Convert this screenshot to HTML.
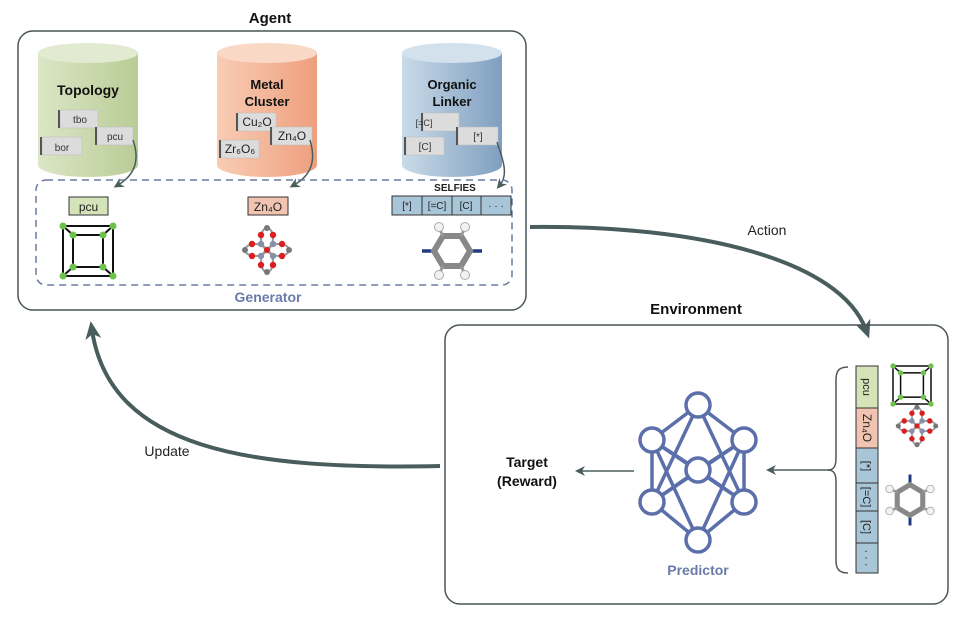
<!DOCTYPE html>
<html><head><meta charset="utf-8"><style>
html,body{margin:0;padding:0;background:#fff;width:966px;height:642px;overflow:hidden}
svg{display:block;font-family:"Liberation Sans",sans-serif}
</style></head><body>
<svg width="966" height="642" viewBox="0 0 966 642" xmlns="http://www.w3.org/2000/svg">
<defs>
<linearGradient id="gG" x1="0" x2="1"><stop offset="0" stop-color="#dbe6c6"/><stop offset="1" stop-color="#b9cc96"/></linearGradient>
<linearGradient id="gO" x1="0" x2="1"><stop offset="0" stop-color="#f8cdb5"/><stop offset="1" stop-color="#ee9f7d"/></linearGradient>
<linearGradient id="gB" x1="0" x2="1"><stop offset="0" stop-color="#c9dbe8"/><stop offset="1" stop-color="#7f9fc0"/></linearGradient>
<marker id="ah" markerWidth="10" markerHeight="10" refX="5" refY="5" orient="auto" markerUnits="userSpaceOnUse"><path d="M0,0 L10,5 L0,10 L3,5 z" fill="#4a5d5d"/></marker>
<marker id="ahb" markerWidth="18" markerHeight="18" refX="9" refY="9" orient="auto" markerUnits="userSpaceOnUse"><path d="M0,1 L18,9 L0,17 L5,9 z" fill="#4a5d5d"/></marker>
<g id="cube"><rect x="0" y="0" width="50" height="50" fill="none" stroke="#111" stroke-width="2"/><rect x="10" y="9" width="30" height="32" fill="none" stroke="#111" stroke-width="2"/><path d="M0 0L10 9M50 0L40 9M0 50L10 41M50 50L40 41" stroke="#111" stroke-width="2"/>
<g fill="#6cc24a"><circle cx="0" cy="0" r="3.5"/><circle cx="50" cy="0" r="3.5"/><circle cx="0" cy="50" r="3.5"/><circle cx="50" cy="50" r="3.5"/><circle cx="10" cy="9" r="3.5"/><circle cx="40" cy="9" r="3.5"/><circle cx="10" cy="41" r="3.5"/><circle cx="40" cy="41" r="3.5"/></g></g>
<g id="zn">
<g fill="none" stroke="#999" stroke-width="2"><ellipse cx="0" cy="-12" rx="6" ry="10"/><ellipse cx="0" cy="12" rx="6" ry="10"/><ellipse cx="-12" cy="0" rx="10" ry="6"/><ellipse cx="12" cy="0" rx="10" ry="6"/></g>
<g fill="#d91f1f"><circle cx="-6" cy="-15" r="3.2"/><circle cx="6" cy="-15" r="3.2"/><circle cx="-6" cy="15" r="3.2"/><circle cx="6" cy="15" r="3.2"/><circle cx="-15" cy="-6" r="3.2"/><circle cx="-15" cy="6" r="3.2"/><circle cx="15" cy="-6" r="3.2"/><circle cx="15" cy="6" r="3.2"/><circle cx="0" cy="0" r="3"/></g>
<g fill="#8a8fa8"><circle cx="-6" cy="-6" r="3.2"/><circle cx="6" cy="-6" r="3.2"/><circle cx="-6" cy="6" r="3.2"/><circle cx="6" cy="6" r="3.2"/></g>
<g fill="#777"><circle cx="0" cy="-22" r="3"/><circle cx="0" cy="22" r="3"/><circle cx="-22" cy="0" r="3"/><circle cx="22" cy="0" r="3"/></g></g>
<g id="benz"><path d="M-30 0H-18M18 0H30" stroke="#223a80" stroke-width="3.5"/><path d="M-18 0L-9 -15H9L18 0L9 15H-9Z" fill="none" stroke="#888" stroke-width="6"/><path d="M-9 -15L-13 -23M9 -15L13 -23M-9 15L-13 23M9 15L13 23" stroke="#999" stroke-width="3"/><g fill="#f2f2f2" stroke="#aaa"><circle cx="-13" cy="-24" r="4.5"/><circle cx="13" cy="-24" r="4.5"/><circle cx="-13" cy="24" r="4.5"/><circle cx="13" cy="24" r="4.5"/></g></g>
</defs>

<text x="270" y="23" font-size="15" font-weight="bold" text-anchor="middle" fill="#111">Agent</text>
<rect x="18" y="31" width="508" height="279" rx="15" fill="none" stroke="#4a5555" stroke-width="1.5"/>

<g>
<path d="M38 53V165A50 12 0 0 0 138 165V53Z" fill="url(#gG)"/><ellipse cx="88" cy="53" rx="50" ry="10" fill="#e2ebd2"/>
<path d="M217 53V165A50 12 0 0 0 317 165V53Z" fill="url(#gO)"/><ellipse cx="267" cy="53" rx="50" ry="10" fill="#f9d8c6"/>
<path d="M402 53V165A50 12 0 0 0 502 165V53Z" fill="url(#gB)"/><ellipse cx="452" cy="53" rx="50" ry="10" fill="#d3e1ec"/>
</g>
<g font-weight="bold" font-size="13" text-anchor="middle" fill="#111">
<text x="88" y="95" font-size="14">Topology</text>
<text x="267" y="89">Metal</text><text x="267" y="106">Cluster</text>
<text x="452" y="89">Organic</text><text x="452" y="106">Linker</text>
</g>
<g fill="#dcdcdc" stroke="#bbb" stroke-width="0.5">
<rect x="60" y="110" width="38" height="18"/><rect x="42" y="137" width="40" height="18"/><rect x="97" y="127" width="36" height="18"/>
<rect x="238" y="113" width="38" height="18"/><rect x="221" y="140" width="38" height="18"/><rect x="272" y="127" width="40" height="18"/>
<rect x="423" y="113" width="36" height="18"/><rect x="406" y="137" width="38" height="18"/><rect x="458" y="127" width="40" height="18"/>
</g>
<g fill="#555"><rect x="58" y="110" width="2" height="18"/><rect x="40" y="137" width="2" height="18"/><rect x="95" y="127" width="2" height="18"/><rect x="236" y="113" width="2" height="18"/><rect x="219" y="140" width="2" height="18"/><rect x="270" y="127" width="2" height="18"/><rect x="421" y="113" width="2" height="18"/><rect x="404" y="137" width="2" height="18"/><rect x="456" y="127" width="2" height="18"/></g>
<g font-size="10" fill="#333" text-anchor="middle">
<text x="80" y="123">tbo</text><text x="62" y="151">bor</text><text x="115" y="140">pcu</text>
<text x="424" y="126" font-size="9">[=C]</text><text x="425" y="150">[C]</text><text x="478" y="140">[*]</text>
</g>
<g font-size="12" fill="#222" text-anchor="middle">
<text x="257" y="126">Cu₂O</text><text x="240" y="153">Zr₆O₆</text><text x="292" y="140">Zn₄O</text>
</g>
<g fill="none" stroke="#4a5d5d" stroke-width="1.5">
<path d="M133 140C140 160 135 175 118 185" marker-end="url(#ah)"/>
<path d="M310 140C316 160 312 175 294 185" marker-end="url(#ah)"/>
<path d="M497 142C504 162 508 175 500 185" marker-end="url(#ah)"/>
</g>

<rect x="36" y="180" width="476" height="105" rx="10" fill="none" stroke="#6b7aa0" stroke-width="1.5" stroke-dasharray="7,5"/>
<text x="268" y="302" font-size="14" font-weight="bold" fill="#6a7bab" text-anchor="middle">Generator</text>

<rect x="69" y="197" width="39" height="18" fill="#d5e3b8" stroke="#333"/><text x="88.5" y="211" font-size="12" text-anchor="middle" fill="#222">pcu</text>
<use href="#cube" x="63" y="226"/>
<rect x="248" y="197" width="40" height="18" fill="#f1c4b2" stroke="#333"/><text x="268" y="211" font-size="12" text-anchor="middle" fill="#222">Zn₄O</text>
<use href="#zn" x="267" y="250"/>
<text x="455" y="191" font-size="10" font-weight="bold" text-anchor="middle" fill="#222">SELFIES</text>
<rect x="392" y="196" width="119" height="19" fill="#a8c6d8" stroke="#333"/>
<path d="M422 196V215M452 196V215M481 196V215" stroke="#333"/>
<g font-size="10" text-anchor="middle" fill="#222"><text x="407" y="209">[*]</text><text x="437" y="209">[=C]</text><text x="466" y="209">[C]</text><text x="496" y="209">· · ·</text></g>
<use href="#benz" x="452" y="251"/>

<path d="M530 227C700 225 840 260 866 330" fill="none" stroke="#4a5d5d" stroke-width="4" marker-end="url(#ahb)"/>
<text x="767" y="235" font-size="14" text-anchor="middle" fill="#222">Action</text>

<text x="696" y="314" font-size="15" font-weight="bold" text-anchor="middle" fill="#111">Environment</text>
<rect x="445" y="325" width="503" height="279" rx="15" fill="none" stroke="#4a5555" stroke-width="1.5"/>

<path d="M440 466C250 470 110 450 92 330" fill="none" stroke="#4a5d5d" stroke-width="4" marker-end="url(#ahb)"/>
<text x="167" y="456" font-size="14" text-anchor="middle" fill="#222">Update</text>

<text x="527" y="467" font-size="14" font-weight="bold" text-anchor="middle" fill="#111">Target</text>
<text x="527" y="486" font-size="14" font-weight="bold" text-anchor="middle" fill="#111">(Reward)</text>
<path d="M634 471H580" stroke="#4a5d5d" stroke-width="1.5" marker-end="url(#ah)"/>

<g stroke="#5b6fab" stroke-width="3.5" fill="none">
<path d="M698 405L652 440M698 405L744 440M698 405L652 502M698 405L744 502M652 440L652 502M744 440L744 502M652 440L698 470M744 440L698 470M652 502L698 470M744 502L698 470M652 440L744 502M744 440L652 502M652 440L698 540M744 440L698 540M652 502L698 540M744 502L698 540"/>
<g fill="#fff"><circle cx="698" cy="405" r="12"/><circle cx="652" cy="440" r="12"/><circle cx="744" cy="440" r="12"/><circle cx="698" cy="470" r="12"/><circle cx="652" cy="502" r="12"/><circle cx="744" cy="502" r="12"/><circle cx="698" cy="540" r="12"/></g>
</g>
<text x="698" y="575" font-size="14" font-weight="bold" text-anchor="middle" fill="#6a7bab">Predictor</text>
<path d="M830 470H771" stroke="#4a5d5d" stroke-width="1.5" marker-end="url(#ah)"/>
<path d="M848 367C838 367 836 372 836 380V458C836 466 834 470 828 470C834 470 836 474 836 482V560C836 568 838 573 848 573" fill="none" stroke="#555" stroke-width="1.5"/>

<rect x="856" y="366" width="22" height="42" fill="#d5e3b8" stroke="#333"/>
<rect x="856" y="408" width="22" height="40" fill="#f1c4b2" stroke="#333"/>
<rect x="856" y="448" width="22" height="125" fill="#a8c6d8" stroke="#333"/>
<path d="M856 483H878M856 511H878M856 543H878" stroke="#333"/>
<g font-size="11" fill="#222" text-anchor="middle">
<text transform="translate(863,387) rotate(90)">pcu</text>
<text transform="translate(863,428) rotate(90)" font-size="12">Zn₄O</text>
<text transform="translate(863,466) rotate(90)">[*]</text>
<text transform="translate(863,497) rotate(90)">[=C]</text>
<text transform="translate(863,527) rotate(90)">[C]</text>
<text transform="translate(863,558) rotate(90)">· · ·</text>
</g>
<use href="#cube" transform="translate(893,366) scale(0.76)"/>
<use href="#zn" transform="translate(917,426) scale(0.85)"/>
<use href="#benz" transform="translate(910,500) rotate(90) scale(0.85)"/>
</svg>
</body></html>
